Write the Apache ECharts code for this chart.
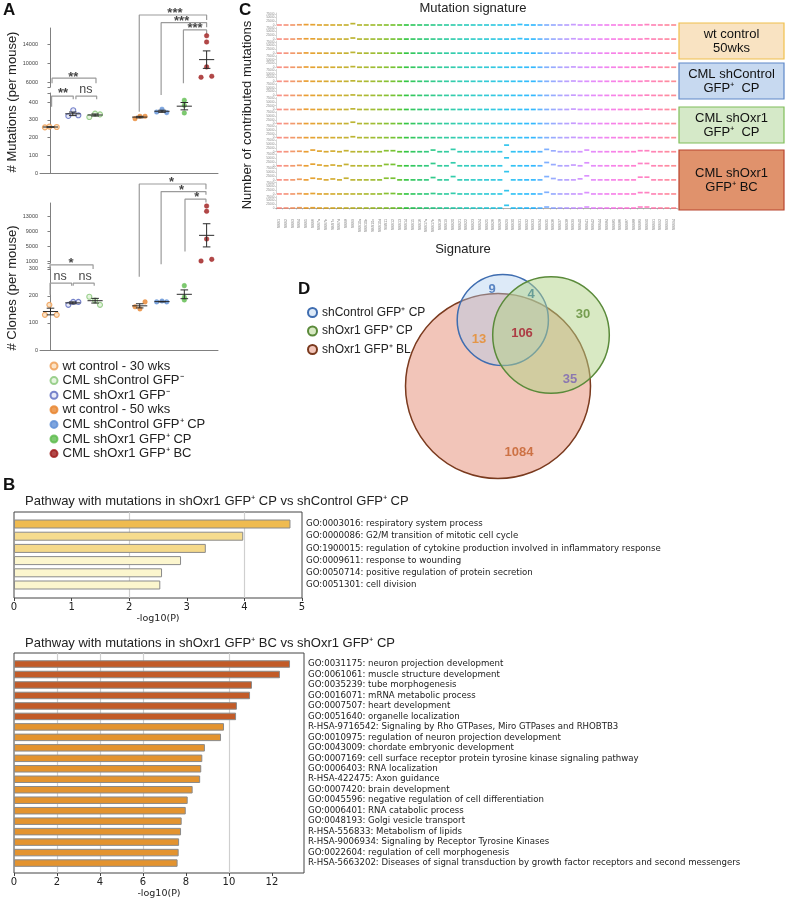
<!DOCTYPE html>
<html><head><meta charset="utf-8">
<script src="https://cdn.jsdelivr.net/npm/echarts@6/dist/echarts.min.js"></script>
<style>html,body{margin:0;padding:0;background:#fff}#c{width:787px;height:900px}</style>
</head><body><div id="c"></div><script>
// ===================== DATA =====================
// ---- Panel A (per mouse) ----
const groupNames = ['wt control - 30 wks','CML shControl GFP⁻','CML shOxr1 GFP⁻','wt control - 50 wks','CML shControl GFP⁺ CP','CML shOxr1 GFP⁺ CP','CML shOxr1 GFP⁺ BC'];
const mutWt30      = [258, 262, 260];
const mutShCtrlNeg = [316, 335, 331];
const mutShOxr1Neg = [322, 354, 326];
const mutWt50      = [307, 320, 320];
const mutShCtrlCP  = [344, 360, 341];
const mutShOxr1CP  = [410, 382, 339];
const mutShOxr1BC  = [15915, 14575, 9277, 7064, 7277];
const cloWt30      = [130, 167, 130];
const cloShCtrlNeg = [197, 183, 167];
const cloShOxr1Neg = [167, 178, 178];
const cloWt50      = [160, 152, 178];
const cloShCtrlCP  = [178, 181, 178];
const cloShOxr1CP  = [238, 195, 185];
const cloShOxr1BC  = [15850, 14440, 7050, 1190, 1630];
const mutTicksLow = [0, 100, 200, 300, 400];
const mutTicksHigh = [6000, 10000, 14000];
const cloTicksLow = [0, 100, 200, 300];
const cloTicksHigh = [1000, 5000, 9000, 13000];

// ---- Panel B ----
const pathCP = ['GO:0003016: respiratory system process','GO:0000086: G2/M transition of mitotic cell cycle','GO:1900015: regulation of cytokine production involved in inflammatory response','GO:0009611: response to wounding','GO:0050714: positive regulation of protein secretion','GO:0051301: cell division'];
const logpCP = [4.80, 3.98, 3.33, 2.90, 2.57, 2.54];
const pathBC = ['GO:0031175: neuron projection development','GO:0061061: muscle structure development','GO:0035239: tube morphogenesis','GO:0016071: mRNA metabolic process','GO:0007507: heart development','GO:0051640: organelle localization','R-HSA-9716542: Signaling by Rho GTPases, Miro GTPases and RHOBTB3','GO:0010975: regulation of neuron projection development','GO:0043009: chordate embryonic development','GO:0007169: cell surface receptor protein tyrosine kinase signaling pathway','GO:0006403: RNA localization','R-HSA-422475: Axon guidance','GO:0007420: brain development','GO:0045596: negative regulation of cell differentiation','GO:0006401: RNA catabolic process','GO:0048193: Golgi vesicle transport','R-HSA-556833: Metabolism of lipids','R-HSA-9006934: Signaling by Receptor Tyrosine Kinases','GO:0022604: regulation of cell morphogenesis','R-HSA-5663202: Diseases of signal transduction by growth factor receptors and second messengers'];
const logpBC = [12.84, 12.37, 11.07, 10.98, 10.37, 10.33, 9.77, 9.63, 8.88, 8.76, 8.71, 8.66, 8.31, 8.08, 7.99, 7.80, 7.77, 7.68, 7.66, 7.61];
const ticksCP = [0, 1, 2, 3, 4, 5];
const ticksBC = [0, 2, 4, 6, 8, 10, 12];

// ---- Panel C ----
const sigNames = ['SBS1','SBS2','SBS3','SBS4','SBS5','SBS6','SBS7a','SBS7b','SBS7c','SBS7d','SBS8','SBS9','SBS10a','SBS10b','SBS10c','SBS10d','SBS11','SBS12','SBS13','SBS14','SBS15','SBS16','SBS17a','SBS17b','SBS18','SBS19','SBS20','SBS21','SBS22','SBS23','SBS24','SBS25','SBS26','SBS28','SBS29','SBS30','SBS31','SBS32','SBS33','SBS34','SBS35','SBS36','SBS37','SBS38','SBS39','SBS40','SBS41','SBS42','SBS44','SBS84','SBS85','SBS86','SBS87','SBS88','SBS89','SBS90','SBS91','SBS92','SBS93','SBS94'];
const sigTicks = [0, 25000, 50000, 75000];
const sigWt50a = [0,0,0,1500,2500,2000,0,0,0,0, 0,9000,0,0,0,0,0,0,0,0, 0,0,0,0,0,0,0,0,0,0, 0,0,0,0,0,0,3500,0,0,0, 0,0,0,0,2500,0,0,0,0,0, 0,0,0,0,0,2500,0,0,0,0];
const sigWt50b = [0,0,0,1500,2000,1500,0,0,0,0, 0,7000,0,0,0,0,0,0,0,0, 0,0,0,0,0,0,0,0,0,0, 0,0,0,0,0,0,3000,0,0,0, 0,0,0,0,2000,0,0,0,0,0, 0,0,0,0,0,2000,0,0,0,0];
const sigWt50c = [0,0,0,0,1500,0,0,0,0,0, 0,5000,0,0,0,0,0,0,0,0, 0,0,0,0,0,0,0,0,0,0, 0,0,0,0,0,0,1500,0,0,0, 0,0,0,0,1500,0,0,0,0,0, 0,0,0,0,0,1500,0,0,0,0];
const sigCtrlCPa = [0,0,0,0,1500,0,0,0,0,0, 0,4000,0,0,0,0,0,0,0,0, 0,0,0,0,0,0,0,0,0,0, 0,0,0,0,0,0,0,0,0,0, 0,0,0,0,2000,0,0,0,0,0, 0,0,0,0,0,2500,0,0,0,0];
const sigCtrlCPb = [0,0,0,0,1500,0,0,0,0,0, 0,3000,0,0,0,0,0,0,0,0, 0,0,0,0,0,0,0,0,0,0, 0,0,0,0,0,0,0,0,0,0, 0,0,0,0,2000,0,0,0,0,0, 0,0,0,0,0,2000,0,0,0,0];
const sigCtrlCPc = [0,0,0,0,0,0,0,0,0,0, 0,3000,0,0,0,0,0,0,0,0, 0,0,0,0,0,0,0,0,0,0, 0,0,0,0,0,0,0,0,0,0, 0,0,0,0,1500,0,0,0,0,0, 0,0,0,0,0,1500,0,0,0,0];
const sigOxr1CPa = [0,0,0,0,1500,0,0,0,0,0, 0,4000,0,0,0,0,0,0,0,0, 0,0,0,0,0,0,0,0,0,0, 0,0,0,0,0,0,0,0,0,0, 0,0,0,0,2500,0,0,0,0,0, 0,0,0,0,0,2000,0,0,0,0];
const sigOxr1CPb = [0,0,0,0,0,0,0,0,0,0, 0,9000,0,0,0,0,0,0,0,0, 0,0,0,0,0,0,0,0,0,0, 0,0,0,0,0,0,0,0,0,0, 0,0,0,0,2000,0,0,0,0,0, 0,0,0,0,0,2000,0,0,0,0];
const sigOxr1CPc = [0,0,0,0,0,0,0,0,0,0, 0,6000,0,0,0,0,0,0,0,0, 0,0,0,0,0,0,0,0,0,0, 0,0,0,0,0,0,0,0,0,0, 0,0,0,0,1500,0,0,0,0,0, 0,0,0,0,0,1500,0,0,0,0];
const sigOxr1BCa = [0,0,2000,3000,0,11000,4000,0,4000,0, 6700,0,0,0,0,0,6700,6700,0,0, 0,0,0,11000,0,0,15500,0,0,0, 0,0,0,0,44000,0,0,0,0,0, 15500,6000,0,0,0,0,11000,0,0,0, 0,0,0,0,6700,6700,0,0,0,0];
const sigOxr1BCb = [0,0,0,3000,0,11000,5000,0,5000,0, 9000,0,0,0,0,0,9000,9000,0,0, 0,0,0,15500,0,0,20000,0,0,0, 0,0,0,0,53000,0,0,0,0,0, 22000,8000,0,0,5000,0,20000,0,0,0, 0,0,0,0,15500,15500,0,0,0,0];
const sigOxr1BCc = [0,0,0,4000,0,11000,6000,0,6000,0, 11000,0,0,0,0,0,11000,11000,0,0, 0,0,0,15500,0,0,22000,0,0,0, 0,0,0,0,55000,0,0,0,0,0, 22000,9000,0,0,0,6700,27000,0,0,0, 0,0,0,0,18000,18000,0,0,0,0];
const sigOxr1BCd = [0,0,0,2000,0,3000,0,0,0,0, 0,0,0,0,0,0,3000,3000,0,0, 0,0,0,3000,0,0,4000,0,0,0, 0,0,0,0,22000,0,0,0,0,0, 11000,0,0,0,0,0,9000,0,0,0, 0,0,0,0,9000,9000,0,0,0,0];
const sigOxr1BCe = [0,0,0,2000,0,2000,0,0,0,0, 0,0,0,0,0,0,0,0,0,0, 0,0,0,0,0,0,0,0,0,0, 0,0,0,0,18000,0,0,0,0,0, 6700,0,0,0,0,0,6700,0,0,0, 0,0,0,0,6700,6700,0,0,0,0];
const sigSampleLabels = [['wt control','50wks'],['CML shControl','GFP⁺  CP'],['CML shOxr1','GFP⁺  CP'],['CML shOxr1','GFP⁺ BC']];

// ---- Panel D ----
const vennSets = ['shControl GFP⁺ CP','shOxr1 GFP⁺ CP','shOxr1 GFP⁺ BL'];
const vennCounts = [9, 4, 30, 13, 106, 35, 1084];

// ===================== LAYOUT / STYLE =====================
const FONT = '"Liberation Sans", Arial, sans-serif';
const DJ = '"DejaVu Sans", Verdana, sans-serif';
const plain = v => String(v);
const chart = echarts.init(document.getElementById('c'), null, {renderer:'canvas', width:787, height:900});
const grids = [], xAxes = [], yAxes = [], series = [], graphics = [], legends = [];
function addGrid(g, x, y){ grids.push(Object.assign({containLabel:false}, g)); const i = grids.length-1; x.gridIndex = i; y.gridIndex = i; xAxes.push(x); yAxes.push(y); return i; }
const mean = a => a.reduce((s,v)=>s+v,0)/a.length;
const sem = a => { const m = mean(a); return Math.sqrt(a.reduce((s,v)=>s+(v-m)*(v-m),0)/(a.length-1))/Math.sqrt(a.length); };

// ---------- Panel A ----------
const AX = {type:'value', min:-0.47, max:7.51};
function aY(min, max, labels, ticks){
  return {type:'value', min, max, splitLine:{show:false},
    axisLine:{show:true, lineStyle:{color:'#808080', width:1}},
    axisTick:{show:true, length:3, customValues:ticks, lineStyle:{color:'#808080'}},
    axisLabel:{show:true, customValues:labels, fontSize:5.5, color:'#444', margin:2, formatter:plain}};
}
const hiddenX = () => Object.assign({}, AX, {show:false});
const lineX = () => Object.assign({}, AX, {show:true, axisLine:{show:true, onZero:false, lineStyle:{color:'#808080'}}, axisTick:{show:false}, axisLabel:{show:false}, splitLine:{show:false}});
const gMU = addGrid({left:40, top:28, width:178, height:59}, hiddenX(), aY(4999, 17554, mutTicksHigh, [4999].concat(mutTicksHigh)));
const gML = addGrid({left:40, top:93, width:178, height:80.3}, lineX(), aY(0, 451, mutTicksLow, mutTicksLow.concat([451])));
const gCU = addGrid({left:40, top:203, width:178, height:60}, hiddenX(), aY(653, 16655, cloTicksHigh, [653].concat(cloTicksHigh)));
const gCL = addGrid({left:40, top:267, width:178, height:83}, lineX(), aY(0, 307, cloTicksLow, cloTicksLow.concat([307])));

const openSt = (b, f) => ({color:f, borderColor:b, borderWidth:1.1});
const fillSt = c => ({color:c, borderColor:c, borderWidth:0.5});
const A_GROUPS = [
  {mut:mutWt30,      clo:cloWt30,      slot:0, jit:[-0.25,-0.05,0.28], st:openSt('#EE9A4E','#FBDDBA'), size:5},
  {mut:mutShCtrlNeg, clo:cloShCtrlNeg, slot:2, jit:[-0.26,0,0.22],     st:openSt('#86C576','#E0F2D8'), size:5},
  {mut:mutShOxr1Neg, clo:cloShOxr1Neg, slot:1, jit:[-0.2,0.02,0.25],   st:openSt('#5867BE','#E2E5F6'), size:5},
  {mut:mutWt50,      clo:cloWt50,      slot:4, jit:[-0.21,0.01,0.24],  st:fillSt('#E8862F'), size:4.6},
  {mut:mutShCtrlCP,  clo:cloShCtrlCP,  slot:5, jit:[-0.24,0,0.21],     st:fillSt('#5E8FD6'), size:4.6},
  {mut:mutShOxr1CP,  clo:cloShOxr1CP,  slot:6, jit:[0,0,0],            st:fillSt('#5DBB4C'), size:4.6},
  {mut:mutShOxr1BC,  clo:cloShOxr1BC,  slot:7, jit:[0,0,0,-0.25,0.23], st:fillSt('#9E1A1A'), size:4.6}
];
const meanML = [], meanCL = [], meanMU = [], meanCU = [];
A_GROUPS.forEach((g, k) => {
  const upper = k === 6;
  const gm = upper ? gMU : gML, gc = upper ? gCU : gCL;
  series.push({type:'scatter', name:groupNames[k], xAxisIndex:gm, yAxisIndex:gm, symbol:'circle', symbolSize:g.size, itemStyle:g.st, z:3,
    data:g.mut.map((v,i)=>[g.slot + g.jit[i], v])});
  series.push({type:'scatter', name:groupNames[k], xAxisIndex:gc, yAxisIndex:gc, symbol:'circle', symbolSize:g.size, itemStyle:g.st, z:3,
    data:g.clo.map((v,i)=>[g.slot + g.jit[i], v])});
  (upper ? meanMU : meanML).push([g.slot, mean(g.mut), sem(g.mut)]);
  (upper ? meanCU : meanCL).push([g.slot, mean(g.clo), sem(g.clo)]);
});
function meanSem(params, api){
  const x = api.value(0), m = api.value(1), s = api.value(2);
  const pm = api.coord([x, m]), pl = api.coord([x, m - s]), ph = api.coord([x, m + s]);
  const w = api.size([0.34, 0])[0], cw = api.size([0.17, 0])[0];
  const st = {stroke:'#2b2b2b', lineWidth:1};
  return {type:'group', children:[
    {type:'line', shape:{x1:pm[0]-w, y1:pm[1], x2:pm[0]+w, y2:pm[1]}, style:st},
    {type:'line', shape:{x1:pm[0], y1:ph[1], x2:pm[0], y2:pl[1]}, style:st},
    {type:'line', shape:{x1:pm[0]-cw, y1:ph[1], x2:pm[0]+cw, y2:ph[1]}, style:st},
    {type:'line', shape:{x1:pm[0]-cw, y1:pl[1], x2:pm[0]+cw, y2:pl[1]}, style:st}
  ]};
}
[[gML, meanML],[gMU, meanMU],[gCL, meanCL],[gCU, meanCU]].forEach(([gi, d]) => {
  series.push({type:'custom', xAxisIndex:gi, yAxisIndex:gi, renderItem:meanSem, data:d, z:4, silent:true, clip:false});
});
// significance brackets (x in slot units, y in lower-grid units)
const mutBrackets = [
  {x1:0.07, x2:2.04, y:534, yl:506, yr:506, t:'**', ly:541, lx:1.02},
  {x1:0.05, x2:1.02, y:434, yl:374, yr:416, t:'**', ly:446, lx:0.56},
  {x1:1.14, x2:2.07, y:434, yl:416, yr:416, t:'ns', ly:470, lx:1.59},
  {x1:3.98, x2:7.0, y:889, yl:346, yr:861, t:'***', ly:900, lx:5.58},
  {x1:4.96, x2:7.0, y:846, yl:440, yr:820, t:'***', ly:854, lx:5.88},
  {x1:5.96, x2:7.0, y:805, yl:506, yr:781, t:'***', ly:811, lx:6.48}
];
const cloBrackets = [
  {x1:-0.02, x2:1.91, y:315, yl:300, yr:300, t:'*', ly:322, lx:0.92},
  {x1:-0.02, x2:0.95, y:247, yl:204, yr:238, t:'ns', ly:271, lx:0.43},
  {x1:1.02, x2:1.96, y:247, yl:238, yr:238, t:'ns', ly:271, lx:1.55},
  {x1:3.98, x2:6.97, y:614, yl:271, yr:595, t:'*', ly:619, lx:5.43},
  {x1:4.96, x2:6.97, y:586, yl:317, yr:574, t:'*', ly:591, lx:5.88},
  {x1:6.03, x2:6.97, y:558, yl:364, yr:546, t:'*', ly:563, lx:6.56}
];
[[gML, mutBrackets],[gCL, cloBrackets]].forEach(([gi, list]) => {
  list.forEach(b => {
    series.push({type:'line', xAxisIndex:gi, yAxisIndex:gi, clip:false, symbol:'none', silent:true, z:1,
      lineStyle:{color:'#9b9b9b', width:1.2}, data:[[b.x1,b.yl],[b.x1,b.y],[b.x2,b.y],[b.x2,b.yr]]});
  });
  series.push({type:'scatter', xAxisIndex:gi, yAxisIndex:gi, clip:false, symbolSize:0, silent:true, z:5,
    data:list.map(b => ({value:[b.lx, b.ly], label:{show:true, position:'inside', formatter:b.t,
      fontSize: b.t === 'ns' ? 12.5 : 13, fontWeight: b.t === 'ns' ? 'normal' : 'bold', color:'#111'}}))});
});
legends.push({data:groupNames, orient:'vertical', left:44.5, top:354, itemWidth:7, itemHeight:7, itemGap:0.6, itemTextGap:7,
  textStyle:{fontSize:13, color:'#222', fontFamily:FONT, lineHeight:14}, selectedMode:false, icon:'circle'});
graphics.push({type:'text', rotation:Math.PI/2, x:12, y:102, style:{text:'# Mutations (per mouse)', font:'13px '+FONT, fill:'#222', textAlign:'center', textVerticalAlign:'middle'}});
graphics.push({type:'text', rotation:Math.PI/2, x:12, y:288, style:{text:'# Clones (per mouse)', font:'13px '+FONT, fill:'#222', textAlign:'center', textVerticalAlign:'middle'}});

// ---------- Panel C ----------
function hcl(h, c, l){
  const hr = h*Math.PI/180, U = c*Math.cos(hr), V = c*Math.sin(hr);
  const Xn = 95.047, Yn = 100, Zn = 108.883;
  const un = 4*Xn/(Xn+15*Yn+3*Zn), vn = 9*Yn/(Xn+15*Yn+3*Zn);
  const Y = l > 8 ? Yn*Math.pow((l+16)/116, 3) : Yn*l/903.3;
  const u = U/(13*l)+un, v = V/(13*l)+vn;
  const X = Y*9*u/(4*v), Z = Y*(12-3*u-20*v)/(4*v);
  const r = (3.240479*X - 1.537150*Y - 0.498535*Z)/100;
  const g = (-0.969256*X + 1.875992*Y + 0.041556*Z)/100;
  const b = (0.055648*X - 0.204043*Y + 1.057311*Z)/100;
  const gm = x => { x = x <= 0.0031308 ? 12.92*x : 1.055*Math.pow(x, 1/2.4)-0.055; return Math.round(255*Math.min(1, Math.max(0, x))); };
  return 'rgb(' + gm(r) + ',' + gm(g) + ',' + gm(b) + ')';
}
const nSig = sigNames.length;
const sigColors = sigNames.map((s, i) => hcl(15 + 360*i/nSig, 100, 65));
const sigRows = [sigWt50a, sigWt50b, sigWt50c, sigCtrlCPa, sigCtrlCPb, sigCtrlCPc, sigOxr1CPa, sigOxr1CPb, sigOxr1CPc, sigOxr1BCa, sigOxr1BCb, sigOxr1BCc, sigOxr1BCd, sigOxr1BCe];
sigRows.forEach((row, r) => {
  const last = r === sigRows.length - 1;
  const gi = addGrid({left:276, width:401, top:13 + r*14.08, height:12},
    {type:'category', data:sigNames, boundaryGap:true, show:last, offset:last ? 9 : 0,
      axisLine:{show:true, lineStyle:{color:'#9a9a9a', width:0.8}}, axisTick:{show:true, length:1.5, interval:0, lineStyle:{color:'#9a9a9a', width:0.5}},
      axisLabel:{show:true, interval:0, rotate:90, fontSize:3.6, color:'#777', margin:2}},
    {type:'value', min:0, max:80000, splitLine:{show:false},
      axisLine:{show:true, lineStyle:{color:'#aaa', width:0.5}}, axisTick:{show:true, length:1.2, customValues:sigTicks, lineStyle:{color:'#aaa', width:0.5}},
      axisLabel:{show:true, customValues:sigTicks, fontSize:3, color:'#888', margin:1.5, formatter:plain}});
  series.push({type:'scatter', xAxisIndex:gi, yAxisIndex:gi, symbol:'rect', symbolSize:[5, 1.7], silent:true, clip:false,
    data:row.map((v, i) => ({value:[i, v], itemStyle:{color:sigColors[i]}}))});
});
graphics.push({type:'text', x:473, y:8, style:{text:'Mutation signature', font:'13px '+FONT, fill:'#222', textAlign:'center', textVerticalAlign:'middle'}});
graphics.push({type:'text', x:463, y:249, style:{text:'Signature', font:'13px '+FONT, fill:'#222', textAlign:'center', textVerticalAlign:'middle'}});
graphics.push({type:'text', rotation:Math.PI/2, x:247, y:115, style:{text:'Number of contributed mutations', font:'13px '+FONT, fill:'#222', textAlign:'center', textVerticalAlign:'middle'}});
const boxLayout = [
  {y:23, h:36, fill:'#F9E3C2', stroke:'#F0C04C'},
  {y:63, h:36, fill:'#C7D9F0', stroke:'#5E88C8'},
  {y:107, h:36, fill:'#D5E9C8', stroke:'#80BE5A'},
  {y:150, h:60, fill:'#E0926C', stroke:'#B8442E'}
];
boxLayout.forEach((b, k) => {
  graphics.push({type:'rect', shape:{x:679, y:b.y, width:105, height:b.h}, style:{fill:b.fill, stroke:b.stroke, lineWidth:1.2}});
  graphics.push({type:'text', x:731.5, y:b.y + b.h/2, style:{text:sigSampleLabels[k].join('\n'), font:'13px '+FONT, lineHeight:14, fill:'#111', textAlign:'center', textVerticalAlign:'middle'}});
});

// ---------- Panel B ----------
function bPanel(frame, innerTop, innerH, xmax, ticks, cats, vals, colors, barW, marks){
  const fg = addGrid(Object.assign({show:true, borderColor:'#444', borderWidth:1, backgroundColor:'transparent'}, frame),
    {type:'value', min:0, max:xmax, splitLine:{show:false}, axisLine:{show:false},
      axisTick:{show:true, length:3, customValues:ticks, lineStyle:{color:'#444'}},
      axisLabel:{show:true, customValues:ticks, fontSize:10, color:'#222', margin:4, fontFamily:DJ, formatter:plain},
      name:'-log10(P)', nameLocation:'middle', nameGap:16, nameTextStyle:{fontSize:9.5, color:'#222', fontFamily:DJ}},
    {type:'value', min:0, max:1, show:false});
  series.push({type:'scatter', xAxisIndex:fg, yAxisIndex:fg, data:[], silent:true,
    markLine:{silent:true, symbol:'none', z:1, label:{show:false}, lineStyle:{color:'#cfcfcf', width:1.2, type:'solid'}, data:marks.map(v => ({xAxis:v}))}});
  const ig = addGrid({left:frame.left, width:frame.width, top:innerTop, height:innerH},
    {type:'value', min:0, max:xmax, show:false},
    {type:'category', data:cats, inverse:true, position:'right', axisLine:{show:false}, axisTick:{show:false},
      axisLabel:{show:true, interval:0, fontSize:8.6, color:'#222', margin:4, fontFamily:DJ}});
  series.push({type:'bar', xAxisIndex:ig, yAxisIndex:ig, barWidth:barW, z:3,
    data:vals.map((v, i) => ({value:v, itemStyle:{color:colors[i], borderColor:'#8a8a8a', borderWidth:1}}))});
}
const cpColors = ['#EFBB50','#F6DC8E','#F5D98A','#FCF6CE','#FCF6CE','#FCF6CE'];
const bcColors = logpBC.map((v, i) => i < 6 ? '#C25B28' : '#E3932F');
bPanel({left:14, top:512, width:288, height:86}, 517.9, 73.2, 5, ticksCP, pathCP, logpCP, cpColors, 9, [2, 4]);
bPanel({left:14, top:653, width:290, height:220}, 658.8, 209.5, 13.49, ticksBC, pathBC, logpBC, bcColors, 7.5, [2, 4, 6, 10]);
graphics.push({type:'text', x:25, y:501, style:{text:'Pathway with mutations in shOxr1 GFP⁺ CP vs shControl GFP⁺ CP', font:'13px '+FONT, fill:'#222', textVerticalAlign:'middle'}});
graphics.push({type:'text', x:25, y:643, style:{text:'Pathway with mutations in shOxr1 GFP⁺ BC vs shOxr1 GFP⁺ CP', font:'13px '+FONT, fill:'#222', textVerticalAlign:'middle'}});

// ---------- Panel D (Venn) ----------
const vennCircles = [ // drawing order: BL, shControl CP, shOxr1 CP
  {set:2, cx:118, cy:136, r:92.5, fill:'rgba(232,150,128,0.55)', stroke:'#7A3A1E'},
  {set:0, cx:122.8, cy:70, r:45.6, fill:'rgba(175,205,238,0.42)', stroke:'#3F6DB0'},
  {set:1, cx:171, cy:85, r:58.3, fill:'rgba(178,212,135,0.5)', stroke:'#5A8A3A'}
];
const vennTextPos = [[112,39,'#3A6BB5'],[151,44,'#4F8C8C'],[203,64,'#5E8B35'],[99,89,'#E88A25'],[142,83,'#A8192B'],[190,129,'#7A63B5'],[139,202,'#C45E28']];
const gV = addGrid({left:380, top:250, width:240, height:240},
  {type:'value', min:0, max:240, show:false}, {type:'value', min:0, max:240, inverse:true, show:false});
vennCircles.forEach(c => {
  series.push({type:'custom', name:vennSets[c.set], xAxisIndex:gV, yAxisIndex:gV, clip:false, silent:true,
    itemStyle:{color:c.fill, borderColor:c.stroke, borderWidth:1.5},
    data:[[c.cx, c.cy, c.r]],
    renderItem:(p, api) => { const ctr = api.coord([api.value(0), api.value(1)]); const rr = api.size([api.value(2), 0])[0];
      return {type:'circle', shape:{cx:ctr[0], cy:ctr[1], r:rr}, style:api.style()}; }});
});
series.push({type:'scatter', xAxisIndex:gV, yAxisIndex:gV, symbolSize:0, silent:true, z:6, clip:false,
  data:vennCounts.map((v, i) => ({value:[vennTextPos[i][0], vennTextPos[i][1]],
    label:{show:true, position:'inside', formatter:String(v), fontSize:13, fontWeight:'bold', color:vennTextPos[i][2]}}))});
legends.push({data:vennSets, orient:'vertical', left:302, top:301, itemWidth:9, itemHeight:9, itemGap:5.5, itemTextGap:5, icon:'circle',
  selectedMode:false, textStyle:{fontSize:12, color:'#222', fontFamily:FONT, lineHeight:13}});

// ---------- panel letters ----------
[['A',3,2],['B',3,477],['C',239,2],['D',298,281]].forEach(([t,x,y]) => {
  graphics.push({type:'text', x, y, style:{text:t, font:'bold 17px '+FONT, fill:'#111', textVerticalAlign:'top'}});
});

chart.setOption({animation:false, textStyle:{fontFamily:FONT}, grid:grids, xAxis:xAxes, yAxis:yAxes, series, legend:legends, graphic:graphics});
</script></body></html>
